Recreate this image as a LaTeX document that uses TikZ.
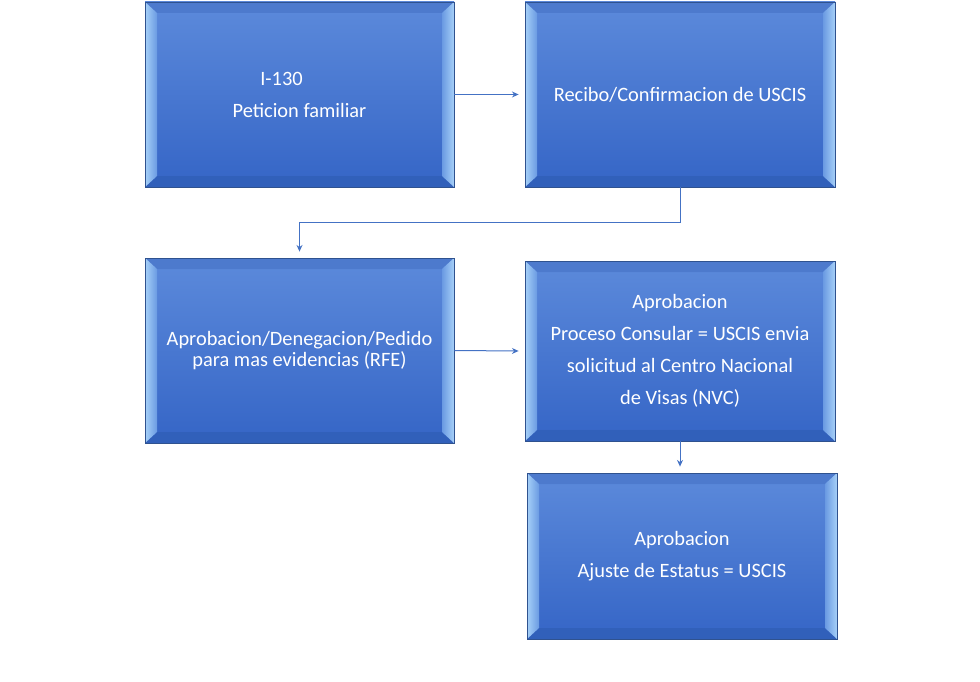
\documentclass[tikz,border=0pt]{standalone}
\usepackage{fontspec}
\setmainfont{Carlito}
\usetikzlibrary{calc,arrows.meta}
\definecolor{facetop}{HTML}{5C8ADB}
\definecolor{facebot}{HTML}{3565C6}
\definecolor{edgecol}{HTML}{2F528F}
\definecolor{topstrip}{HTML}{4D7ACD}
\definecolor{botstrip}{HTML}{3160BA}
\definecolor{lightstrip}{HTML}{A6D0F8}
\definecolor{midstrip}{HTML}{6A9AE2}
\definecolor{linkcol}{HTML}{4472C4}
\tikzset{
  bevbox/.style={rectangle, inner sep=0pt, draw=edgecol, line width=0.6pt,
    top color=facetop, bottom color=facebot, text=white, align=center,
    font=\fontsize{15.3}{24}\selectfont,
    path picture={
      \coordinate (pnw) at (path picture bounding box.north west);
      \coordinate (pne) at (path picture bounding box.north east);
      \coordinate (psw) at (path picture bounding box.south west);
      \coordinate (pse) at (path picture bounding box.south east);
      \fill[topstrip] (pnw) -- (pne) -- ($(pne)+(-12,11)$) -- ($(pnw)+(12,11)$) -- cycle;
      \fill[botstrip] (psw) -- (pse) -- ($(pse)+(-12,-11)$) -- ($(psw)+(12,-11)$) -- cycle;
      \shade[left color=lightstrip, right color=midstrip] (pnw) -- ($(pnw)+(12,11)$) -- ($(psw)+(12,-11)$) -- (psw) -- cycle;
      \shade[left color=midstrip, right color=lightstrip] (pne) -- ($(pne)+(-12,11)$) -- ($(pse)+(-12,-11)$) -- (pse) -- cycle;
    }},
  link/.style={draw=linkcol, line width=0.75pt, -{Stealth[length=5pt,width=4.5pt]}}
}
\begin{document}
\begin{tikzpicture}[x=0.75pt,y=-0.75pt]
\useasboundingbox (0,0) rectangle (980,681);
\node[bevbox, minimum width=231.75pt, minimum height=138.75pt] (b1) at (299.5,94.5)
  {I-130\hspace*{27pt}\\Peticion familiar};
\node[bevbox, minimum width=232.5pt, minimum height=138.75pt] (b2) at (680,94.5)
  {Recibo/Confirmacion de USCIS};
\node[bevbox, minimum width=231.75pt, minimum height=138.75pt, font=\fontsize{15.3}{15.75}\selectfont] (b3) at (299.5,350.5)
  {Aprobacion/Denegacion/Pedido\\para mas evidencias (RFE)};
\node[bevbox, minimum width=232.5pt, minimum height=135pt] (b4) at (680,351)
  {Aprobacion\\Proceso Consular = USCIS envia\\solicitud al Centro Nacional\\de Visas (NVC)};
\node[bevbox, minimum width=232.5pt, minimum height=124.5pt] (b5) at (682,556)
  {Aprobacion\\Ajuste de Estatus = USCIS};
\draw[link] (b1.east) -- ([xshift=-4.5pt]b2.west);
\draw[link] (b2.south) -- ++(0,35) -| ([yshift=4.5pt]b3.north);
\draw[link] (b3.east) -- ([xshift=-4.5pt]b4.west);
\coordinate (c45) at ([yshift=4.5pt]b4.south |- b5.north);
\draw[link] (b4.south) -- (c45);
\end{tikzpicture}
\end{document}
